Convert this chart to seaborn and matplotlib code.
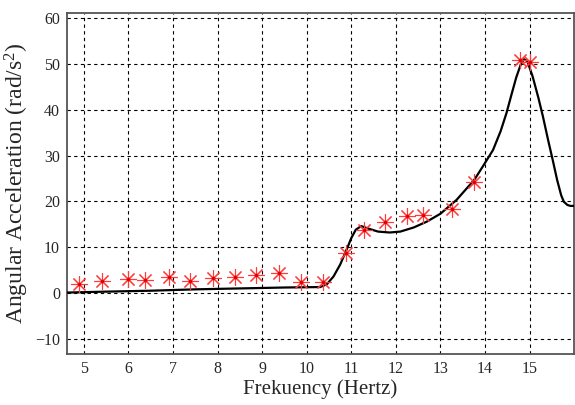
import numpy as np
import pandas as pd
import seaborn as sns
import matplotlib.pyplot as plt

# simulated response curve
sim_freq = [4.62, 5.5, 6.5, 7.5, 8.5, 9.5, 10.3, 10.45, 10.6, 10.75, 10.9,
            11.0, 11.1, 11.22, 11.4, 11.6, 11.86, 12.1, 12.4, 12.7, 13.0,
            13.36, 13.76, 13.95, 14.18, 14.35, 14.48, 14.6, 14.7, 14.8, 14.87,
            14.95, 15.07, 15.2, 15.3, 15.42, 15.52, 15.62, 15.71, 15.77,
            15.85, 15.92, 16.0]
sim_acc = [0.1, 0.3, 0.5, 0.8, 1.0, 1.2, 1.3, 1.9, 3.6, 6.2, 9.6,
           12.0, 13.8, 14.6, 14.0, 13.4, 13.2, 13.4, 14.3, 15.6, 17.3,
           20.3, 24.7, 27.6, 31.2, 35.3, 39.2, 43.5, 47.0, 49.8, 51.0,
           50.6, 47.2, 42.5, 38.5, 33.2, 29.0, 24.6, 21.3, 19.9,
           19.2, 19.0, 19.0]

# measured points
exp_freq = [4.89, 5.41, 6.0, 6.38, 6.9, 7.38, 7.9, 8.39, 8.87, 9.37, 9.88,
            10.37, 10.87, 11.29, 11.75, 12.24, 12.61, 13.27, 13.76, 14.78, 15.0]
exp_acc = [1.9, 2.7, 3.1, 2.8, 3.6, 2.7, 3.2, 3.6, 3.9, 4.4, 2.5,
           2.5, 8.7, 13.8, 15.6, 16.7, 17.0, 18.3, 24.3, 50.9, 50.5]

sns.set_style("white")
plt.rcParams["font.family"] = ["Liberation Serif", "DejaVu Serif"]
plt.rcParams["mathtext.fontset"] = "custom"
plt.rcParams["mathtext.rm"] = "Liberation Serif"
plt.rcParams["mathtext.it"] = "Liberation Serif"

fig = plt.figure(figsize=(5.75, 4.05), dpi=100)
ax = fig.add_axes([0.1165, 0.126, 0.882, 0.842])

sns.lineplot(x=sim_freq, y=sim_acc, color="black", linewidth=1.6, ax=ax,
             sort=False, zorder=3)
sns.lineplot(x=exp_freq, y=exp_acc, color="#ff3b3b", linestyle="",
             marker=(8, 2, 0), markersize=12, markeredgewidth=0.8,
             markeredgecolor="#ff3b3b", ax=ax, sort=False, zorder=4)
sns.lineplot(x=exp_freq, y=exp_acc, color="#e00000", linestyle="",
             marker="o", markersize=2.5, markeredgewidth=0,
             markerfacecolor="#e00000", ax=ax, sort=False, zorder=5)

ax.set_xlim(4.62, 16.0)
ax.set_ylim(-13.3, 61.1)
ax.set_xticks(range(5, 16))
ax.set_yticks(range(-10, 61, 10))
ax.grid(True, color="black", linestyle=(0, (3, 3)), linewidth=0.8)
ax.tick_params(labelsize=11.5, direction="in", length=3, pad=5)

for s in ax.spines.values():
    s.set_color("#555555")
    s.set_linewidth(1.3)

ax.set_xlabel("Frekuency (Hertz)", fontsize=15, labelpad=2)
ax.set_ylabel("Angular Acceleration (rad/s$^2$)", fontsize=17, labelpad=3)

fig.savefig("out.png", dpi=100)
